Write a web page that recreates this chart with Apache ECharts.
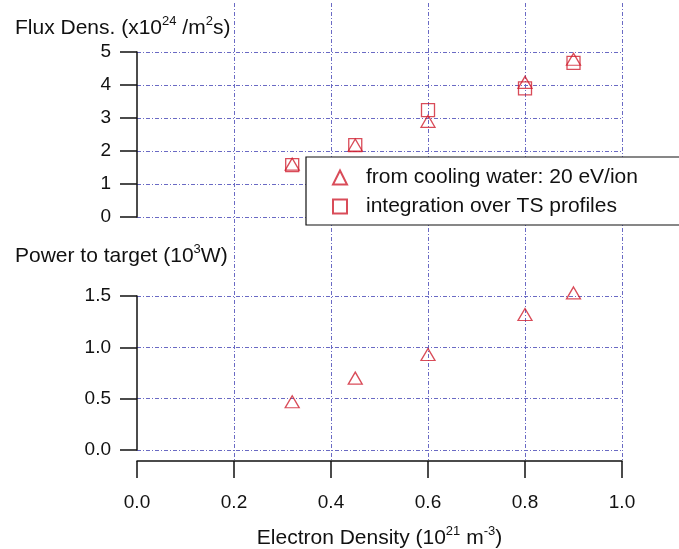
<!DOCTYPE html>
<html>
<head>
<meta charset="utf-8">
<script src="https://cdn.jsdelivr.net/npm/echarts@6/dist/echarts.min.js"></script>
<style>
  html, body { margin: 0; padding: 0; background: #fff; }
  #chart { width: 679px; height: 549px; }
</style>
</head>
<body>
<div id="chart"></div>
<script>
const density = [0.32, 0.45, 0.6, 0.8, 0.9];
const fluxCooling = [1.6, 2.18, 2.9, 4.08, 4.78];
const fluxTS = [1.57, 2.18, 3.24, 3.9, 4.67];
const powerCooling = [0.47, 0.7, 0.93, 1.32, 1.53];

const nameCooling = "from cooling water: 20 eV/ion";
const nameTS = "integration over TS profiles";

const red = "#d01f30";
const ink = "#111";
const font = "'Liberation Sans', Arial, sans-serif";
const gridLine = { show: true, lineStyle: { color: "#6a6ac4", type: [4, 2, 1, 2], width: 1 } };
const sup = { fontSize: 13, fontFamily: font, color: ink, padding: [0, 0, 14, 0] };

const pairs = (xs, ys) => xs.map((x, i) => [x, ys[i]]);

const markerStyle = { color: "rgba(0,0,0,0)", borderColor: red, borderWidth: 1.3 };

const option = {
  animation: false,
  textStyle: { fontFamily: font },
  title: [
    {
      left: 10, top: 10,
      text: "Flux Dens. (x10{sup|24} /m{sup|2}s)",
      textStyle: { fontSize: 21, fontWeight: "normal", color: ink, rich: { sup } },
    },
    {
      left: 10, top: 238,
      text: "Power to target (10{sup|3}W)",
      textStyle: { fontSize: 21, fontWeight: "normal", color: ink, rich: { sup } },
    },
  ],
  legend: {
    orient: "vertical",
    left: 306, top: 157,
    padding: [10, 60, 8, 26],
    itemGap: 8,
    itemWidth: 14, itemHeight: 14,
    backgroundColor: "#fff",
    borderColor: ink, borderWidth: 1.2,
    textStyle: { fontSize: 21, color: ink, padding: [0, 0, 0, 14] },
    data: [
      { name: nameCooling, icon: "triangle" },
      { name: nameTS, icon: "rect" },
    ],
    z: 10,
  },
  grid: [
    // vertical grid lines running through both panels (0.2 .. 1.0)
    { left: 234, width: 388, top: 3, height: 458, outerBoundsMode: "none" },
    { left: 137, width: 485, top: 52, height: 165, outerBoundsMode: "none" },
    { left: 137, width: 485, top: 296, height: 154, outerBoundsMode: "none" },
  ],
  xAxis: [
    {
      gridIndex: 0, type: "value", min: 0.2, max: 1, interval: 0.2,
      axisLine: { show: false }, axisTick: { show: false }, axisLabel: { show: false },
      splitLine: gridLine,
    },
    {
      gridIndex: 1, type: "value", min: 0, max: 1, interval: 0.2,
      axisLine: { show: false }, axisTick: { show: false }, axisLabel: { show: false },
      splitLine: { show: false },
    },
    {
      gridIndex: 2, type: "value", min: 0, max: 1, interval: 0.2,
      offset: 11,
      axisLine: { show: true, onZero: false, lineStyle: { color: ink, width: 1.5 } },
      axisTick: { show: true, length: 17, lineStyle: { color: ink, width: 1.5 } },
      axisLabel: { fontSize: 19, color: ink, margin: 32, formatter: (v) => v.toFixed(1) },
      splitLine: { show: false },
      name: "Electron Density (10{sup|21} m{sup|-3})",
      nameLocation: "middle",
      nameGap: 64,
      nameTextStyle: { fontSize: 21, color: ink, rich: { sup } },
    },
  ],
  yAxis: [
    { gridIndex: 0, type: "value", min: 0, max: 1, show: false },
    {
      gridIndex: 1, type: "value", min: 0, max: 5, interval: 1,
      axisLine: { show: true, lineStyle: { color: ink, width: 1.5 } },
      axisTick: { show: true, length: 17, lineStyle: { color: ink, width: 1.5 } },
      axisLabel: { fontSize: 19, color: ink, margin: 26 },
      splitLine: gridLine,
    },
    {
      gridIndex: 2, type: "value", min: 0, max: 1.5, interval: 0.5,
      axisLine: { show: true, lineStyle: { color: ink, width: 1.5 } },
      axisTick: { show: true, length: 17, lineStyle: { color: ink, width: 1.5 } },
      axisLabel: { fontSize: 19, color: ink, margin: 26, formatter: (v) => v.toFixed(1) },
      splitLine: gridLine,
    },
  ],
  series: [
    {
      name: nameTS, type: "scatter", xAxisIndex: 1, yAxisIndex: 1, clip: false,
      symbol: "rect", symbolSize: 13, itemStyle: markerStyle,
      data: pairs(density, fluxTS),
    },
    {
      name: nameCooling, type: "scatter", xAxisIndex: 1, yAxisIndex: 1, clip: false,
      symbol: "triangle", symbolSize: [14, 12], itemStyle: markerStyle,
      data: pairs(density, fluxCooling),
    },
    {
      name: nameCooling, type: "scatter", xAxisIndex: 2, yAxisIndex: 2, clip: false,
      symbol: "triangle", symbolSize: [14, 12], itemStyle: markerStyle,
      data: pairs(density, powerCooling),
    },
  ],
};

const chart = echarts.init(document.getElementById("chart"));
chart.setOption(option);
</script>
</body>
</html>
